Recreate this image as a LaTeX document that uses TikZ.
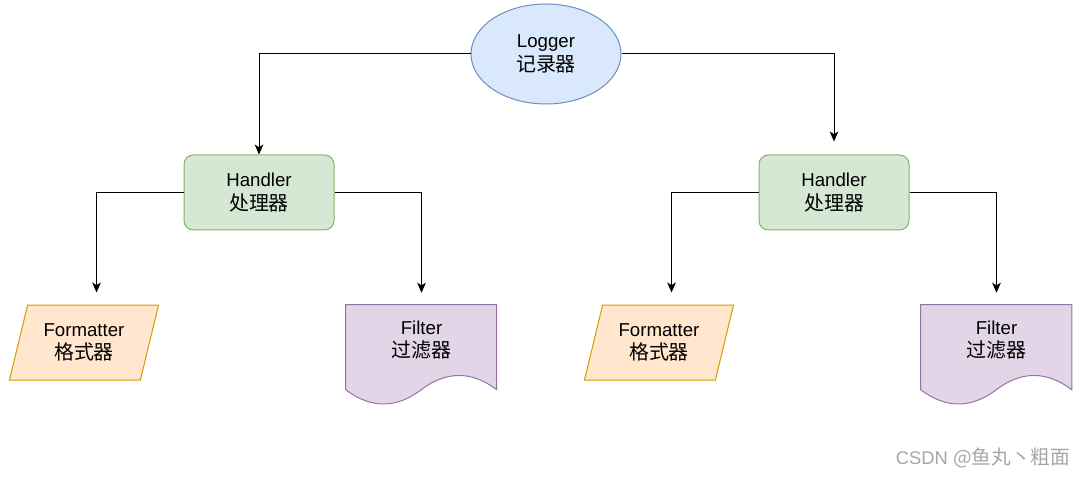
\documentclass[tikz,border=0pt]{standalone}
\usepackage{fontspec}
\setmainfont{Liberation Sans}
\newfontfamily\cjk[Scale=1.07]{Noto Sans CJK SC}
\usetikzlibrary{shapes.geometric,arrows.meta}

\definecolor{loggerfill}{HTML}{DAE8FC}
\definecolor{loggerline}{HTML}{6C8EBF}
\definecolor{handlerfill}{HTML}{D5E8D4}
\definecolor{handlerline}{HTML}{82B366}
\definecolor{fmtfill}{HTML}{FFE6CC}
\definecolor{fmtline}{HTML}{D79B00}
\definecolor{filterfill}{HTML}{E1D5E7}
\definecolor{filterline}{HTML}{9673A6}
\definecolor{markgray}{HTML}{A6A6A6}

\tikzset{
  label text/.style={align=center, font=\fontsize{14}{17.5}\selectfont, inner sep=0pt},
  logger/.style={label text, ellipse, draw=loggerline, fill=loggerfill, line width=0.75pt,
    minimum width=112.5pt, minimum height=75pt},
  handler/.style={label text, rectangle, rounded corners=7pt, draw=handlerline, fill=handlerfill,
    line width=0.75pt, minimum width=112.5pt, minimum height=56.25pt},
  formatter/.style={label text, trapezium, trapezium left angle=71, trapezium right angle=109,
    trapezium stretches=true, draw=fmtline, fill=fmtfill, line width=0.75pt,
    minimum width=112.5pt, minimum height=56.25pt},
  filterbox/.style={label text, rectangle, minimum width=113.25pt, minimum height=52.5pt},
  docshape/.style={draw=filterline, fill=filterfill, line width=0.75pt},
  wire/.style={draw=black, line width=0.75pt, -{Stealth[length=7.5pt,width=6.5pt,inset=2pt]}},
}

\begin{document}
\begin{tikzpicture}[x=0.75pt,y=-0.75pt]
    \useasboundingbox (0,0) rectangle (1084,477);
    \def\docpath#1{(#1.north west) -- ++(151,0) -- ++(0,85)
        .. controls +(-25,-19) and +(25,-19) .. ++(-75.5,0)
        .. controls +(-25,19) and +(25,19) .. ++(-75.5,0) -- cycle}

    % Logger and its two handlers
    \node[logger] (logger) at (546,54) {Logger\\{\cjk 记录器}};
    \node[handler] (handlerA) at (259,192.5) {Handler\\{\cjk 处理器}};
    \node[handler] (handlerB) at (834,192.5) {Handler\\{\cjk 处理器}};

    % Formatters
    \node[formatter] (fmtA) at (84,342.5) {Formatter\\{\cjk 格式器}};
    \node[formatter] (fmtB) at (659,342.5) {Formatter\\{\cjk 格式器}};

    % Filters: document shape drawn round a plain node
    \node[filterbox] (filterA) at (421.5,340) {};
    \node[filterbox] (filterB) at (996.5,340) {};
    \path[docshape] \docpath{filterA};
    \path[docshape] \docpath{filterB};
    \node[label text] (filterAtext) at (filterA) {Filter\\{\cjk 过滤器}};
    \node[label text] (filterBtext) at (filterB) {Filter\\{\cjk 过滤器}};

    % Connectors
    \draw[wire] (logger.west) -| (handlerA.north);
    \draw[wire, shorten >=9.75pt] (logger.east) -| (handlerB.north);
    \draw[wire, shorten >=9pt] (handlerA.west) -| ([xshift=9.4pt]fmtA.north);
    \draw[wire, shorten >=9pt] (handlerA.east) -| (filterA.north);
    \draw[wire, shorten >=9pt] (handlerB.west) -| ([xshift=9.4pt]fmtB.north);
    \draw[wire, shorten >=9pt] (handlerB.east) -| (filterB.north);

    % watermark
    \node[text=markgray, font=\fontsize{13.8}{16}\selectfont, inner sep=0pt] (mark) at (983,458)
        {CSDN {\cjk @鱼丸丶粗面}};
\end{tikzpicture}
\end{document}
